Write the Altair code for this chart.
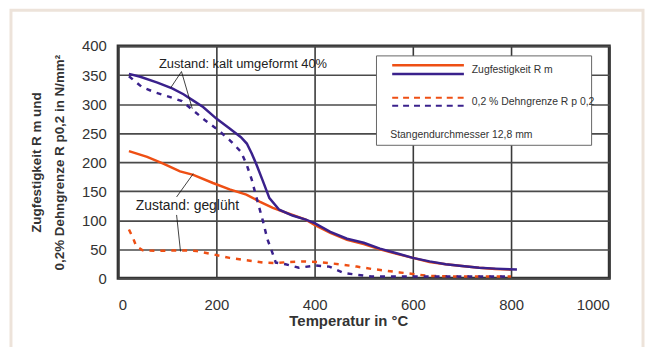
import altair as alt
import pandas as pd

# ---- data ----
# Zustand: kalt umgeformt 40% - Zugfestigkeit Rm
kalt_rm_t = [22, 45, 80, 110, 133, 153, 173, 200, 227, 250, 262, 272, 282, 294, 308, 328, 355, 382, 400, 432, 466, 500, 533, 567, 600, 634, 667, 700, 735, 768, 812]
kalt_rm_v = [352, 347, 337, 327, 317, 306, 295, 275, 258, 243, 232, 215, 195, 169, 138, 118, 108, 101, 95, 80, 68, 61, 51, 43, 35, 29, 24, 21, 18, 16.5, 15]
# Zustand: kalt umgeformt 40% - 0,2% Dehngrenze Rp0,2
kalt_rp_t = [22, 49, 76, 106, 130, 153, 177, 204, 227, 250, 262, 272, 281, 294, 304, 314, 321, 341, 368, 402, 430, 459, 486, 516, 600, 800]
kalt_rp_v = [348, 329, 320, 312, 305, 289, 272, 255, 238, 218, 195, 170, 141, 101, 67, 44, 27, 24, 18, 22, 20, 9, 6, 3, 3, 3]
# Zustand: gegluht - Zugfestigkeit Rm
glueh_rm_t = [22, 59, 93, 126, 153, 193, 227, 261, 288, 315, 348, 382, 400, 432, 466, 500, 533, 567, 600, 634, 667, 700, 735, 768, 800]
glueh_rm_v = [219, 209, 197, 184, 178, 164, 153, 144, 132, 121, 111, 101, 92, 78, 66, 59, 50, 42, 35, 28, 24, 21, 18, 16, 15]
# Zustand: gegluht - 0,2% Dehngrenze Rp0,2
glueh_rp_t = [22, 30, 37, 50, 80, 126, 160, 194, 227, 261, 294, 321, 348, 380, 402, 430, 460, 486, 516, 545, 573, 603, 633, 680, 800]
glueh_rp_v = [84, 70, 55, 48, 47, 48, 47, 41, 35, 31, 27, 26, 28, 29, 28, 26, 23, 20, 16, 13, 10, 7, 4, 3, 3]

x_ticks = [0, 200, 400, 600, 800, 1000]
y_ticks = [0, 50, 100, 150, 200, 250, 300, 350, 400]

x_title = "Temperatur in °C"
y_title = ["Zugfestigkeit R m und", "0,2% Dehngrenze R p0,2 in N/mm²"]

ann_text = ["Zustand: kalt umgeformt 40%", "Zustand: geglüht"]
ann_t = [83, 36]
ann_v = [369, 125]
# leader lines (start / end in data units)
lead_t1 = [129, 129, 119, 119]
lead_v1 = [356, 356, 140, 109]
lead_t2 = [107, 151, 153, 127]
lead_v2 = [328, 292, 180, 46]

legend_labels = ["Zugfestigkeit R m", "0,2 % Dehngrenze R p 0,2", "Stangendurchmesser 12,8 mm"]

ORANGE = "#EE4F14"
BLUE = "#3A218C"
FONT = "Liberation Sans"

def series(t, v):
    return pd.DataFrame({"t": t, "v": v})

xs = alt.Scale(domain=[0, 1000], nice=False)
ys = alt.Scale(domain=[0, 400], nice=False)

X = alt.X("t:Q", scale=xs, axis=alt.Axis(
    values=x_ticks, format="d", title=x_title, grid=True, ticks=False, domain=False,
    labelPadding=20, labelFontSize=15, labelColor="#333", labelFont=FONT,
    titleFont=FONT, titleFontSize=15, titleFontWeight="bold", titleColor="#333",
    titleX=232, titleY=43, titleBaseline="middle", titleAlign="center",
    gridColor="#3a3a3a", gridWidth=1.6, gridOpacity=1))
Y = alt.Y("v:Q", scale=ys, axis=alt.Axis(
    values=y_ticks, format="d", title=y_title, grid=True, ticks=False, domain=False,
    labelPadding=12, labelFontSize=15, labelColor="#333", labelFont=FONT,
    titleFont=FONT, titleFontSize=13.5, titleFontWeight="bold", titleColor="#333",
    titleLineHeight=23, titleX=-82, titleY=117, titleBaseline="middle", titleAlign="center",
    gridColor="#4a4a4a", gridWidth=1.6, gridOpacity=1))

glueh_rm = alt.Chart(series(glueh_rm_t, glueh_rm_v)).mark_line(
    color=ORANGE, strokeWidth=2.5).encode(x=X, y=Y)
glueh_rp = alt.Chart(series(glueh_rp_t, glueh_rp_v)).mark_line(
    color=ORANGE, strokeWidth=2.5, strokeDash=[5, 6]).encode(x=X, y=Y)
kalt_rp = alt.Chart(series(kalt_rp_t, kalt_rp_v)).mark_line(
    color=BLUE, strokeWidth=2.5, strokeDash=[5, 6]).encode(x=X, y=Y)
kalt_rm = alt.Chart(series(kalt_rm_t, kalt_rm_v)).mark_line(
    color=BLUE, strokeWidth=2.5).encode(x=X, y=Y)

# annotations
ann_df = pd.DataFrame({"t": ann_t, "v": ann_v, "label": ann_text})
ann1 = alt.Chart(ann_df.iloc[[0]]).mark_text(
    align="left", baseline="middle", font=FONT, fontSize=13, color="#222").encode(
    x=X, y=Y, text="label:N")
ann2 = alt.Chart(ann_df.iloc[[1]]).mark_text(
    align="left", baseline="middle", font=FONT, fontSize=14, color="#222").encode(
    x=X, y=Y, text="label:N")
lead_df = pd.DataFrame({"t": lead_t1, "v": lead_v1, "t2": lead_t2, "v2": lead_v2})
leaders = alt.Chart(lead_df).mark_rule(color="#111", strokeWidth=0.8).encode(
    x=X, y=Y, x2="t2:Q", y2="v2:Q")

# legend box
leg_box = alt.Chart(pd.DataFrame({"t": [526], "t2": [964], "v": [229], "v2": [383]})).mark_rect(
    fill="white", stroke="#666", strokeWidth=1).encode(x=X, x2="t2:Q", y=Y, y2="v2:Q")
leg_lines_df = pd.DataFrame({
    "t": [558, 558, 558, 558], "t2": [704, 704, 704, 704],
    "v": [367, 352, 311, 297], "kind": ["o", "b", "o", "b"],
    "dash": ["solid", "solid", "dash", "dash"]})
cscale = alt.Scale(domain=["o", "b"], range=[ORANGE, BLUE])
leg_solid = alt.Chart(leg_lines_df[leg_lines_df.dash == "solid"]).mark_rule(strokeWidth=2.5).encode(
    x=X, x2="t2:Q", y=Y, color=alt.Color("kind:N", scale=cscale, legend=None))
leg_dash = alt.Chart(leg_lines_df[leg_lines_df.dash == "dash"]).mark_rule(strokeWidth=2, strokeDash=[6, 5]).encode(
    x=X, x2="t2:Q", y=Y, color=alt.Color("kind:N", scale=cscale, legend=None))
leg_text_df = pd.DataFrame({"t": [720, 720, 554], "v": [359, 304, 246], "label": legend_labels})
leg_text = alt.Chart(leg_text_df).mark_text(
    align="left", baseline="middle", font=FONT, fontSize=10.5, color="#333").encode(
    x=X, y=Y, text="label:N")

# outer decorative frame
frame = alt.Chart(pd.DataFrame({"a": [0]})).mark_rect(
    fill="transparent", stroke="#EDE3DA", strokeWidth=3).encode(
    x=alt.value(-108), x2=alt.value(529), y=alt.value(-36), y2=alt.value(320))

chart = alt.layer(
    glueh_rm, glueh_rp, kalt_rp, kalt_rm, leaders, ann1, ann2,
    leg_box, leg_solid, leg_dash, leg_text, frame
).properties(
    width=495, height=234,
    padding={"left": 111, "top": 37, "right": 36, "bottom": 68},
    autosize=alt.AutoSizeParams(type="none"),
    background="white"
).configure_view(
    stroke="#333", strokeWidth=3
)

chart.save("out.html", embed_options={"renderer": "svg", "actions": False})
